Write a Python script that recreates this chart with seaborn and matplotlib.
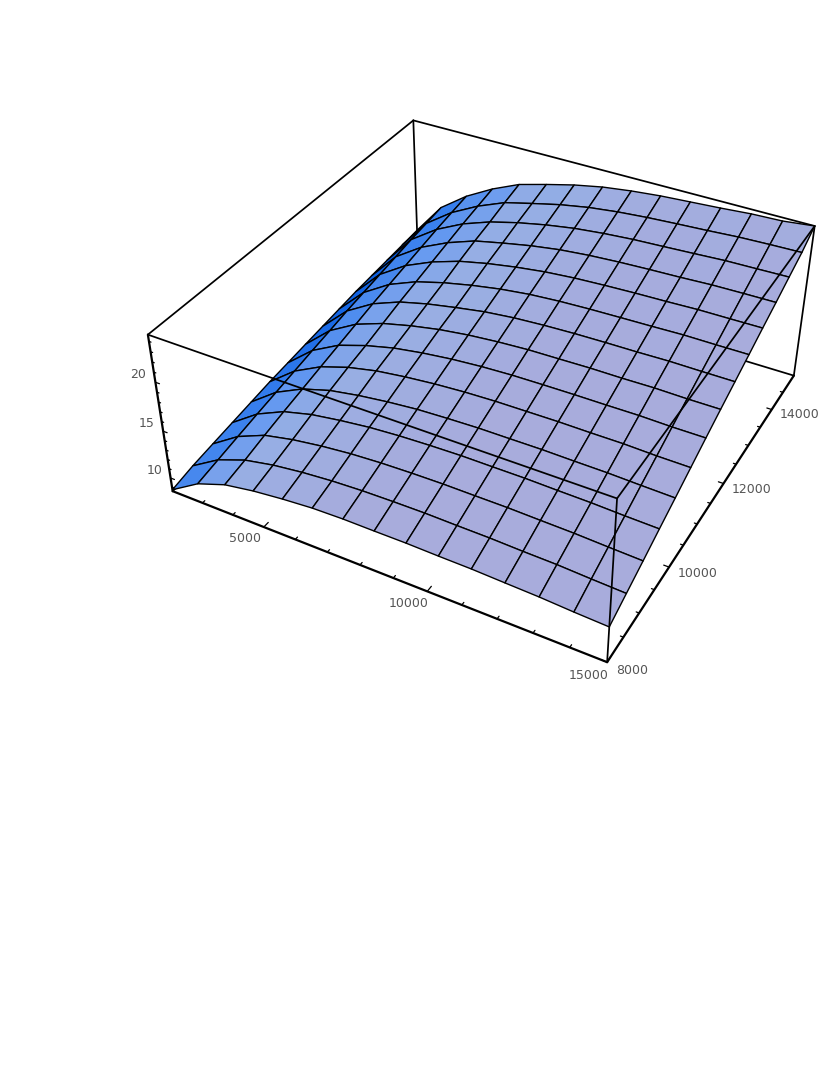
import numpy as np
import matplotlib
matplotlib.use("Agg")
import matplotlib.pyplot as plt
import seaborn as sns

# grid of the surface
x_nodes = [2000, 2928.6, 3857.1, 4785.7, 5714.3, 6642.9, 7571.4, 8500, 9428.6,
           10357.1, 11285.7, 12214.3, 13142.9, 14071.4, 15000]
y_nodes = [8000, 8500, 9000, 9500, 10000, 10500, 11000, 11500, 12000, 12500,
           13000, 13500, 14000, 14500, 15000]

# surface height, one list per x node, y going 8000 -> 15000
z00 = [8.71, 9.19, 9.52, 9.84, 10.16, 10.48, 10.72, 10.97, 11.21, 11.45, 11.69, 11.85, 12.01, 12.17, 12.33]
z01 = [10.55, 11.00, 11.45, 11.88, 12.29, 12.70, 13.11, 13.49, 13.90, 14.23, 14.57, 14.91, 15.25, 15.52, 15.80]
z02 = [11.63, 12.12, 12.70, 13.22, 13.70, 14.19, 14.67, 15.15, 15.63, 16.04, 16.44, 16.84, 17.24, 17.57, 17.89]
z03 = [12.16, 12.74, 13.35, 13.99, 14.59, 15.15, 15.63, 16.20, 16.76, 17.24, 17.73, 18.21, 18.69, 19.10, 19.50]
z04 = [12.51, 13.14, 13.80, 14.46, 15.12, 15.80, 16.36, 16.92, 17.49, 18.05, 18.69, 19.26, 19.74, 20.30, 20.79]
z05 = [12.77, 13.41, 14.12, 14.83, 15.51, 16.20, 16.84, 17.49, 18.05, 18.69, 19.34, 19.90, 20.50, 21.03, 21.59]
z06 = [12.86, 13.57, 14.31, 15.05, 15.80, 16.50, 17.20, 17.89, 18.55, 19.21, 19.85, 20.48, 21.11, 21.72, 22.33]
z07 = [12.85, 13.64, 14.41, 15.18, 15.94, 16.70, 17.44, 18.16, 18.87, 19.58, 20.25, 20.93, 21.59, 22.25, 22.91]
z08 = [12.86, 13.67, 14.46, 15.26, 16.04, 16.81, 17.58, 18.34, 19.06, 19.80, 20.51, 21.22, 21.91, 22.61, 23.30]
z09 = [12.80, 13.62, 14.44, 15.25, 16.05, 16.84, 17.63, 18.40, 19.18, 19.93, 20.67, 21.41, 22.14, 22.86, 23.59]
z10 = [12.77, 13.59, 14.43, 15.25, 16.07, 16.87, 17.66, 18.47, 19.24, 20.01, 20.79, 21.54, 22.28, 23.04, 23.78]
z11 = [12.66, 13.49, 14.35, 15.18, 16.02, 16.84, 17.66, 18.47, 19.27, 20.08, 20.87, 21.64, 22.43, 23.20, 23.97]
z12 = [12.56, 13.43, 14.28, 15.13, 15.99, 16.84, 17.68, 18.52, 19.34, 20.17, 20.98, 21.78, 22.59, 23.39, 24.20]
z13 = [12.38, 13.27, 14.14, 15.01, 15.89, 16.74, 17.61, 18.47, 19.32, 20.16, 21.00, 21.83, 22.65, 23.49, 24.31]
z14 = [12.25, 13.14, 14.02, 14.93, 15.81, 16.71, 17.61, 18.48, 19.32, 20.17, 21.03, 21.86, 22.72, 23.56, 24.65]

z_low = 8.55
z_high = 24.65

x_major = [5000, 10000, 15000]
x_minor = [3000, 4000, 6000, 7000, 8000, 9000, 11000, 12000, 13000, 14000]
y_major = [8000, 10000, 12000, 14000]
y_minor = [8500, 9000, 9500, 10500, 11000, 11500, 12500, 13000, 13500, 14500]
z_major = [10, 15, 20]
z_minor = [9, 11, 12, 13, 14, 16, 17, 18, 19, 21, 22, 23, 24]

sns.set_theme(style="white")
plt.rcParams["font.family"] = ["DejaVu Sans"]

fig = plt.figure(figsize=(8.3, 10.75), dpi=100)
# 800 px square axes, placed so the box lands where the reference has it
ax = fig.add_axes([87.1 / 830, 307.35 / 1075, 800 / 830, 800 / 1075],
                  projection="3d", computed_zorder=False)
ax.set_xlim(x_nodes[0], x_nodes[-1], view_margin=0)
ax.set_ylim(y_nodes[0], y_nodes[-1], view_margin=0)
ax.set_zlim(z_low, z_high, view_margin=0)
ax.view_init(36.308, -61.6171, -0.0949)
ax.set_proj_type("persp", focal_length=0.3679)
ax.set_box_aspect((2.4951, 2.4942, 1), zoom=0.8443)
ax.set_axis_off()

X, Y = np.meshgrid(x_nodes, y_nodes)
Z = np.array([z00, z01, z02, z03, z04, z05, z06, z07, z08, z09, z10, z11, z12, z13, z14]).T

# facet colour follows the slope along x, steep facets go deep blue
slope = (Z[:, 1:] - Z[:, :-1]) / (z_high - z_low) / (2.4951 / 14)
slope = 0.5 * (slope[1:, :] + slope[:-1, :])
cmap = sns.blend_palette(["#a8acdc", "#96aee4", "#699bf0", "#3c82ee", "#1969e6", "#0055d7"], as_cmap=True)
face = cmap(np.clip(slope / 1.15, 0, 1))

xa, xb = x_nodes[0], x_nodes[-1]
ya, yb = y_nodes[0], y_nodes[-1]


def edge(p, q, lw=1.25, z=1):
    ax.plot([p[0], q[0]], [p[1], q[1]], [p[2], q[2]], color="black", lw=lw, zorder=z,
            solid_capstyle="round")


# box edges behind the surface
edge((xa, yb, z_low), (xb, yb, z_low))
edge((xa, ya, z_low), (xa, yb, z_low))
edge((xa, yb, z_low), (xa, yb, z_high))
edge((xa, ya, z_high), (xa, yb, z_high))
edge((xa, yb, z_high), (xb, yb, z_high))
edge((xb, yb, z_low), (xb, yb, z_high))

ax.plot_surface(X, Y, Z, facecolors=face, rstride=1, cstride=1, shade=False,
                edgecolor="black", linewidth=1.0, antialiased=True, zorder=2)

# box edges in front of the surface
edge((xa, ya, z_high), (xb, ya, z_high), z=3)
edge((xb, ya, z_high), (xb, yb, z_high), z=3)
edge((xb, ya, z_low), (xb, ya, z_high), z=3)

# the three axes
edge((xa, ya, z_low), (xb, ya, z_low), lw=1.6, z=3)
edge((xb, ya, z_low), (xb, yb, z_low), lw=1.6, z=3)
edge((xa, ya, z_low), (xa, ya, z_high), lw=1.6, z=3)

for v in x_major + x_minor:
    edge((v, ya, z_low), (v, ya + (110 if v in x_major else 55), z_low), lw=0.9, z=3)
for v in y_major + y_minor:
    edge((xb, v, z_low), (xb - (150 if v in y_major else 80), v, z_low), lw=0.9, z=3)
for v in z_major + z_minor:
    edge((xa, ya, v), (xa + (130 if v in z_major else 65), ya, v), lw=0.9, z=3)

label_style = dict(fontsize=9, color="#555555", va="center", zorder=4)
for v in x_major:
    ax.text(v - 193, ya - 319, z_low, str(v), ha="center", **label_style)
for v in y_major:
    ax.text(xb + 290, v - 70, z_low, str(v), ha="left", **label_style)
for v in z_major:
    ax.text(xa - 265, ya, v + 0.46, str(v), ha="right", **label_style)

fig.savefig("out.png", dpi=100, facecolor="white")
